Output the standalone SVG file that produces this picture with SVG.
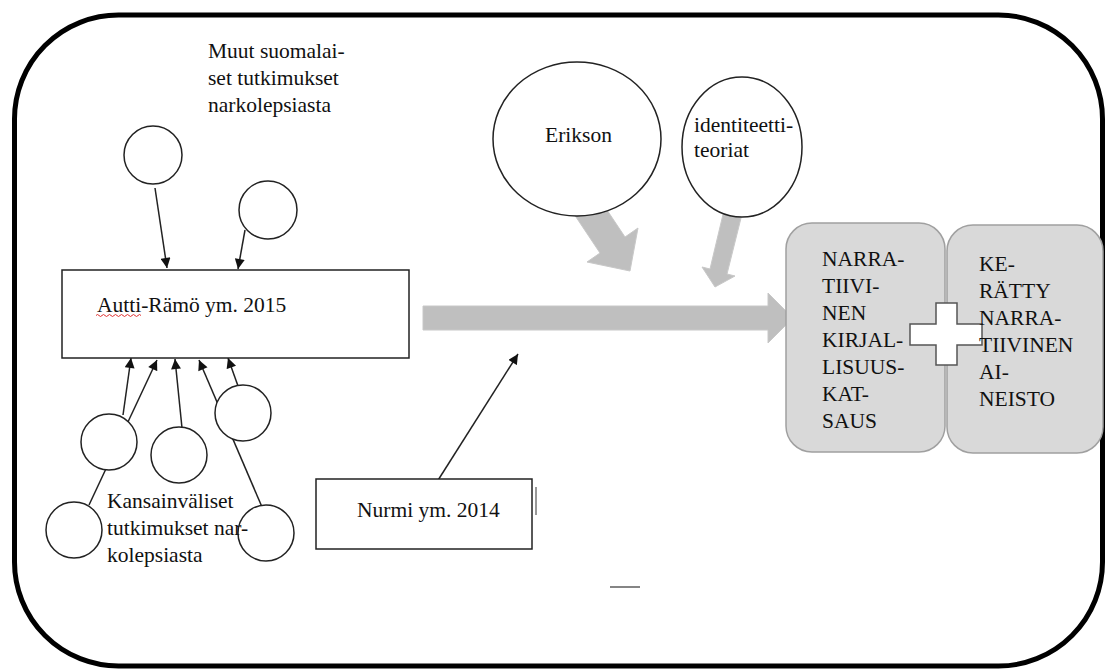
<svg xmlns="http://www.w3.org/2000/svg" width="1105" height="670" viewBox="0 0 1105 670">
<style>
text{font-family:'Liberation Serif','DejaVu Serif',serif;font-size:21.5px;fill:#111}
.c{fill:#fff;stroke:#222;stroke-width:1.5}
.b{fill:#fff;stroke:#222;stroke-width:1.5}
.ln{fill:none;stroke:#222;stroke-width:1.5}
.ga{fill:#bfbfbf;stroke:#c8c8c8;stroke-width:1}
.rb{fill:#d9d9d9;stroke:#a0a0a0;stroke-width:1.5}
</style>
<defs>
<marker id="ah" viewBox="0 0 10 10" refX="10" refY="5" markerWidth="11" markerHeight="10" markerUnits="userSpaceOnUse" orient="auto"><path d="M0,0 L10,5 L0,10 z" fill="#111"/></marker>
</defs>
<rect width="1105" height="670" fill="#fff"/>
<g id="frame"><rect x="14.5" y="15" width="1088" height="651" rx="104" ry="104" fill="none" stroke="#000" stroke-width="5"/></g>

<g id="connectors">
<line class="ln" x1="155" y1="188" x2="167" y2="268" marker-end="url(#ah)"/>
<line class="ln" x1="245" y1="230" x2="238" y2="269" marker-end="url(#ah)"/>
<line class="ln" x1="123" y1="415" x2="131" y2="358" marker-end="url(#ah)"/>
<line class="ln" x1="89" y1="505" x2="157" y2="360" marker-end="url(#ah)"/>
<line class="ln" x1="182" y1="428" x2="175" y2="359" marker-end="url(#ah)"/>
<line class="ln" x1="262" y1="507" x2="199" y2="360" marker-end="url(#ah)"/>
<line class="ln" x1="238" y1="386" x2="228" y2="358" marker-end="url(#ah)"/>
<line class="ln" x1="435" y1="485" x2="518" y2="354" marker-end="url(#ah)"/>
<polygon id="main-arrow" class="ga" points="423,306 768,306 768,293 793,318 768,343 768,330 423,330"/>
<polygon id="erikson-arrow" class="ga" points="560,193 585,177 625,237 638,228 630,271 587,262 600,253"/>
<polygon id="identity-arrow" class="ga" points="725,206 743,210 727,274 735,276 715,287 702,267 710,269"/>
</g>

<g font-family="Liberation Serif, serif">
<g id="muut-label"><text x="208" y="58">Muut suomalai-</text><text x="208" y="85">set tutkimukset</text><text x="208" y="112">narkolepsiasta</text></g>
<g id="circle-top1"><circle class="c" cx="153" cy="155" r="29"/></g>
<g id="circle-top2"><circle class="c" cx="268" cy="210" r="29"/></g>

<g id="autti"><rect class="b" x="62" y="270" width="347" height="88"/>
<text x="97" y="312">Autti-Rämö ym. 2015</text>
<path d="M96,315.5 q1.5,-2 3,0 t3,0 t3,0 t3,0 t3,0 t3,0 t3,0 t3,0 t3,0 t3,0 t3,0 t3,0 t3,0 t3,0 t3,0" fill="none" stroke="#e03030" stroke-width="1"/></g>

<g id="circle-a"><circle class="c" cx="109" cy="442" r="28"/></g>
<g id="circle-b"><circle class="c" cx="179" cy="455" r="28"/></g>
<g id="circle-c"><circle class="c" cx="243" cy="413" r="28"/></g>
<g id="circle-d"><circle class="c" cx="74" cy="530" r="28"/></g>
<g id="circle-e"><circle class="c" cx="266" cy="533" r="28"/></g>
<g id="kansainvaliset-label"><text x="107" y="508">Kansainväliset</text><text x="107" y="535">tutkimukset nar-</text><text x="107" y="562">kolepsiasta</text></g>

<g id="nurmi"><rect class="b" x="316" y="479" width="216" height="70"/>
<text x="357" y="517">Nurmi ym. 2014</text>
<line x1="536" y1="487" x2="536" y2="515" stroke="#333" stroke-width="1"/>
<line x1="610" y1="587" x2="640" y2="587" stroke="#333" stroke-width="1.2"/></g>

<g id="erikson"><ellipse class="c" cx="577" cy="139" rx="84" ry="77"/><text x="545" y="142">Erikson</text></g>
<g id="identiteetti"><ellipse class="c" cx="742" cy="147" rx="60" ry="70"/><text x="694" y="132">identiteetti-</text><text x="694" y="157">teoriat</text></g>

<g id="narratiivinen-kirjallisuuskatsaus"><rect class="rb" x="786" y="223" width="159" height="229" rx="26"/>
<text x="822" y="266">NARRA-</text><text x="822" y="293">TIIVI-</text><text x="822" y="320">NEN</text><text x="822" y="347">KIRJAL-</text><text x="822" y="374">LISUUS-</text><text x="822" y="401">KAT-</text><text x="822" y="428">SAUS</text></g>
<g id="keratty-aineisto"><rect class="rb" x="947" y="225" width="156" height="228" rx="26"/></g>
<g id="plus"><polygon points="936,303 957,303 957,324 982,324 982,345 957,345 957,365 936,365 936,345 910,345 910,324 936,324" fill="#fff" stroke="#555" stroke-width="1.5"/></g>
<g id="keratty-text"><text x="979" y="271">KE-</text><text x="979" y="298">RÄTTY</text><text x="979" y="325">NARRA-</text><text x="979" y="352">TIIVINEN</text><text x="979" y="379">AI-</text><text x="979" y="406">NEISTO</text></g>
</g>
</svg>
